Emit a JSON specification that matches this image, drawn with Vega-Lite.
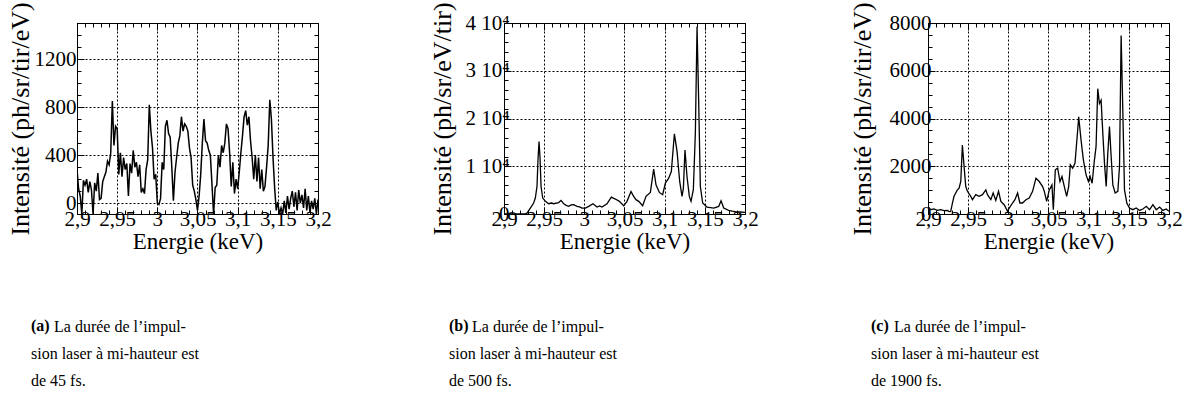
{
  "$schema": "https://vega.github.io/schema/vega-lite/v6.json",
  "background": "white",
  "padding": {"left": 6, "top": 1, "right": 5, "bottom": 5},
  "config": {
    "font": "Liberation Serif, DejaVu Serif, Times New Roman, serif",
    "view": {"stroke": "black", "strokeWidth": 1},
    "axis": {
      "labelFont": "Liberation Serif, DejaVu Serif, Times New Roman, serif", "titleFont": "Liberation Serif, DejaVu Serif, Times New Roman, serif",
      "labelColor": "black", "titleColor": "black", "titleFontWeight": "normal",
      "domainColor": "black", "tickColor": "black", "gridColor": "black",
      "gridDash": [2, 2], "gridWidth": 1, "labelFontSize": 21, "titleFontSize": 23,
      "labelFlush": false, "labelOverlap": false, "labelBound": false
    },
    "title": {"font": "Liberation Serif, DejaVu Serif, Times New Roman, serif", "fontWeight": "normal", "color": "black", "fontSize": 16, "orient": "bottom", "anchor": "start", "frame": "group"}
  },
  "datasets": {
    "a": [
      {"E":2.900,"I":280},{"E":2.902,"I":120},{"E":2.904,"I":60},{"E":2.906,"I":-90},{"E":2.908,"I":190},{"E":2.910,"I":150},{"E":2.912,"I":200},{"E":2.914,"I":90},{"E":2.916,"I":180},{"E":2.918,"I":110},{"E":2.920,"I":-90},{"E":2.922,"I":170},{"E":2.924,"I":100},{"E":2.926,"I":250},{"E":2.928,"I":30},{"E":2.930,"I":40},{"E":2.932,"I":180},{"E":2.934,"I":220},{"E":2.936,"I":260},{"E":2.938,"I":350},{"E":2.940,"I":320},{"E":2.942,"I":420},{"E":2.944,"I":850},{"E":2.946,"I":480},{"E":2.948,"I":640},{"E":2.950,"I":620},
      {"E":2.952,"I":240},{"E":2.954,"I":420},{"E":2.956,"I":220},{"E":2.958,"I":380},{"E":2.960,"I":280},{"E":2.962,"I":330},{"E":2.964,"I":60},{"E":2.966,"I":330},{"E":2.968,"I":250},{"E":2.970,"I":440},{"E":2.972,"I":300},{"E":2.974,"I":340},{"E":2.976,"I":220},{"E":2.978,"I":320},{"E":2.980,"I":90},{"E":2.982,"I":120},{"E":2.984,"I":80},{"E":2.986,"I":280},{"E":2.988,"I":360},{"E":2.990,"I":820},{"E":2.992,"I":600},{"E":2.994,"I":460},{"E":2.996,"I":200},{"E":2.998,"I":240},
      {"E":3.000,"I":0},{"E":3.002,"I":-10},{"E":3.004,"I":40},{"E":3.006,"I":340},{"E":3.008,"I":280},{"E":3.010,"I":640},{"E":3.012,"I":690},{"E":3.014,"I":580},{"E":3.016,"I":550},{"E":3.018,"I":300},{"E":3.020,"I":20},{"E":3.022,"I":260},{"E":3.024,"I":380},{"E":3.026,"I":500},{"E":3.028,"I":560},{"E":3.030,"I":720},{"E":3.032,"I":600},{"E":3.034,"I":660},{"E":3.036,"I":640},{"E":3.038,"I":600},{"E":3.040,"I":460},{"E":3.042,"I":380},{"E":3.044,"I":150},{"E":3.046,"I":100},{"E":3.048,"I":30},
      {"E":3.050,"I":-60},{"E":3.052,"I":60},{"E":3.054,"I":240},{"E":3.056,"I":500},{"E":3.058,"I":700},{"E":3.060,"I":520},{"E":3.062,"I":500},{"E":3.064,"I":440},{"E":3.066,"I":400},{"E":3.068,"I":160},{"E":3.070,"I":-90},{"E":3.072,"I":130},{"E":3.074,"I":150},{"E":3.076,"I":400},{"E":3.078,"I":300},{"E":3.080,"I":480},{"E":3.082,"I":420},{"E":3.084,"I":500},{"E":3.086,"I":660},{"E":3.088,"I":620},{"E":3.090,"I":420},{"E":3.092,"I":140},{"E":3.094,"I":340},{"E":3.096,"I":80},{"E":3.098,"I":200},
      {"E":3.100,"I":120},{"E":3.102,"I":260},{"E":3.104,"I":420},{"E":3.106,"I":560},{"E":3.108,"I":720},{"E":3.110,"I":770},{"E":3.112,"I":650},{"E":3.114,"I":720},{"E":3.116,"I":520},{"E":3.118,"I":380},{"E":3.120,"I":200},{"E":3.122,"I":400},{"E":3.124,"I":180},{"E":3.126,"I":380},{"E":3.128,"I":120},{"E":3.130,"I":280},{"E":3.132,"I":100},{"E":3.134,"I":140},{"E":3.136,"I":300},{"E":3.138,"I":480},{"E":3.140,"I":860},{"E":3.142,"I":700},{"E":3.144,"I":380},{"E":3.146,"I":130},{"E":3.148,"I":-60},
      {"E":3.150,"I":10},{"E":3.152,"I":-90},{"E":3.154,"I":-40},{"E":3.156,"I":-90},{"E":3.158,"I":20},{"E":3.160,"I":-80},{"E":3.162,"I":60},{"E":3.164,"I":-50},{"E":3.166,"I":40},{"E":3.168,"I":100},{"E":3.170,"I":-30},{"E":3.172,"I":90},{"E":3.174,"I":-60},{"E":3.176,"I":110},{"E":3.178,"I":0},{"E":3.180,"I":70},{"E":3.182,"I":-40},{"E":3.184,"I":120},{"E":3.186,"I":-60},{"E":3.188,"I":60},{"E":3.190,"I":-80},{"E":3.192,"I":20},{"E":3.194,"I":-50},{"E":3.196,"I":40},{"E":3.198,"I":-90},{"E":3.200,"I":30}
    ],
    "b": [
      {"E":2.9000,"I":0},{"E":2.9100,"I":0},{"E":2.9200,"I":0},{"E":2.9266,"I":0},{"E":2.9286,"I":200},{"E":2.9328,"I":1250},{"E":2.9369,"I":2300},{"E":2.9390,"I":3340},{"E":2.9411,"I":5800},{"E":2.9423,"I":11300},{"E":2.9436,"I":15200},{"E":2.9448,"I":12000},{"E":2.9461,"I":5800},{"E":2.9482,"I":3340},{"E":2.9515,"I":2650},{"E":2.9556,"I":2150},{"E":2.9590,"I":2300},{"E":2.9618,"I":2150},{"E":2.9681,"I":2400},{"E":2.9710,"I":2850},{"E":2.9743,"I":2150},{"E":2.9775,"I":1800},{"E":2.9805,"I":1600},{"E":2.9835,"I":1900},{"E":2.9867,"I":1950},{"E":2.9909,"I":1600},{"E":2.9940,"I":1500},{"E":2.9971,"I":1250},{"E":3.0013,"I":1250},{"E":3.0054,"I":1600},{"E":3.0108,"I":2150},{"E":3.0158,"I":1460},{"E":3.0190,"I":1700},{"E":3.0220,"I":1460},{"E":3.0282,"I":2150},{"E":3.0336,"I":3550},{"E":3.0386,"I":3130},{"E":3.0436,"I":2650},{"E":3.0490,"I":1740},{"E":3.0531,"I":2650},{"E":3.0581,"I":4730},{"E":3.0614,"I":3690},{"E":3.0643,"I":3000},{"E":3.0677,"I":2650},{"E":3.0726,"I":1740},{"E":3.0768,"I":3690},{"E":3.0822,"I":4520},{"E":3.0863,"I":9400},{"E":3.0892,"I":6120},{"E":3.0934,"I":4520},{"E":3.0975,"I":4040},{"E":3.1009,"I":6470},{"E":3.1050,"I":7500},{"E":3.1083,"I":8900},{"E":3.1121,"I":16800},{"E":3.1154,"I":13100},{"E":3.1187,"I":6820},{"E":3.1216,"I":3690},{"E":3.1233,"I":5430},{"E":3.1253,"I":13400},{"E":3.1278,"I":7860},{"E":3.1307,"I":3690},{"E":3.1328,"I":2650},{"E":3.1357,"I":5080},{"E":3.1382,"I":16900},{"E":3.1403,"I":39200},{"E":3.1423,"I":23900},{"E":3.1444,"I":5800},{"E":3.1473,"I":2300},{"E":3.1527,"I":1460},{"E":3.1570,"I":1350},{"E":3.1610,"I":1250},{"E":3.1673,"I":1600},{"E":3.1702,"I":2780},{"E":3.1735,"I":1250},{"E":3.1797,"I":770},{"E":3.1840,"I":600},{"E":3.1880,"I":490},{"E":3.1940,"I":420},{"E":3.2000,"I":350}
    ],
    "c": [
      {"E":2.9000,"I":320},{"E":2.9033,"I":180},{"E":2.9075,"I":210},{"E":2.9116,"I":150},{"E":2.9158,"I":180},{"E":2.9200,"I":140},{"E":2.9241,"I":150},{"E":2.9262,"I":100},{"E":2.9283,"I":110},{"E":2.9304,"I":460},{"E":2.9324,"I":740},{"E":2.9345,"I":880},{"E":2.9366,"I":1010},{"E":2.9387,"I":1080},{"E":2.9408,"I":1360},{"E":2.9428,"I":2890},{"E":2.9449,"I":1990},{"E":2.9470,"I":1150},{"E":2.9491,"I":950},{"E":2.9532,"I":740},{"E":2.9553,"I":600},{"E":2.9595,"I":810},{"E":2.9636,"I":740},{"E":2.9678,"I":810},{"E":2.9720,"I":1010},{"E":2.9740,"I":810},{"E":2.9782,"I":600},{"E":2.9811,"I":880},{"E":2.9844,"I":570},{"E":2.9878,"I":950},{"E":2.9907,"I":530},{"E":2.9948,"I":390},{"E":2.9990,"I":110},{"E":3.0011,"I":250},{"E":3.0052,"I":460},{"E":3.0082,"I":600},{"E":3.0115,"I":880},{"E":3.0144,"I":460},{"E":3.0177,"I":460},{"E":3.0219,"I":600},{"E":3.0260,"I":670},{"E":3.0302,"I":950},{"E":3.0344,"I":1500},{"E":3.0385,"I":1360},{"E":3.0427,"I":1150},{"E":3.0448,"I":950},{"E":3.0477,"I":530},{"E":3.0510,"I":1010},{"E":3.0543,"I":1220},{"E":3.0560,"I":180},{"E":3.0585,"I":1850},{"E":3.0614,"I":1920},{"E":3.0643,"I":1360},{"E":3.0668,"I":1570},{"E":3.0697,"I":1150},{"E":3.0726,"I":740},{"E":3.0751,"I":1150},{"E":3.0772,"I":2060},{"E":3.0801,"I":1920},{"E":3.0830,"I":2130},{"E":3.0855,"I":3170},{"E":3.0876,"I":4070},{"E":3.0905,"I":3100},{"E":3.0934,"I":2270},{"E":3.0968,"I":1640},{"E":3.0997,"I":1360},{"E":3.1018,"I":1570},{"E":3.1043,"I":1290},{"E":3.1072,"I":2270},{"E":3.1092,"I":2820},{"E":3.1113,"I":5250},{"E":3.1134,"I":4630},{"E":3.1155,"I":4770},{"E":3.1176,"I":3380},{"E":3.1197,"I":2130},{"E":3.1218,"I":1150},{"E":3.1238,"I":2540},{"E":3.1259,"I":3660},{"E":3.1280,"I":2400},{"E":3.1301,"I":1220},{"E":3.1330,"I":880},{"E":3.1363,"I":950},{"E":3.1384,"I":1990},{"E":3.1404,"I":7480},{"E":3.1425,"I":4350},{"E":3.1446,"I":1010},{"E":3.1475,"I":460},{"E":3.1508,"I":250},{"E":3.1550,"I":180},{"E":3.1592,"I":250},{"E":3.1633,"I":150},{"E":3.1675,"I":210},{"E":3.1717,"I":320},{"E":3.1758,"I":180},{"E":3.1800,"I":390},{"E":3.1841,"I":180},{"E":3.1883,"I":290},{"E":3.1924,"I":150},{"E":3.1966,"I":210},{"E":3.2000,"I":110}
    ]
  },
  "spacing": 97,
  "bounds": "full",
  "hconcat": [
    {
      "bounds": "flush",
      "title": {"text": ["sion laser à mi-hauteur est", "de 45 fs."], "dx": -46, "offset": 11, "lineHeight": 27},
      "vconcat": [
        {
          "bounds": "flush",
          "title": {"text": "La durée de l’impul-", "dx": -23, "offset": -16},
          "vconcat": [
            {
              "width": 241, "height": 191,
              "data": {"name": "a"},
              "title": {"text": "(a)", "dx": -46, "offset": 65, "fontWeight": "bold"},
              "layer": [
                {
                  "mark": {"type": "line", "color": "black", "strokeWidth": 1.5, "clip": true},
                  "encoding": {
                    "x": {"field": "E", "type": "quantitative", "scale": {"domain": [2.9, 3.2], "nice": false, "zero": false},
                      "axis": {"orient": "bottom", "title": "Energie (keV)", "values": [2.9,2.91,2.92,2.93,2.94,2.95,2.96,2.97,2.98,2.99,3.0,3.01,3.02,3.03,3.04,3.05,3.06,3.07,3.08,3.09,3.1,3.11,3.12,3.13,3.14,3.15,3.16,3.17,3.18,3.19,3.2],
                        "labelExpr": "abs(datum.value*20-round(datum.value*20))<0.001 ? replace(format(datum.value,'.2~f'),'.',',') : ''",
                        "grid": true, "gridOpacity": {"condition": {"test": "abs(datum.value*20-round(datum.value*20))<0.001", "value": 1}, "value": 0},
                        "tickSize": {"condition": {"test": "abs(datum.value*20-round(datum.value*20))<0.001", "value": -7}, "value": -4},
                        "labelPadding": 1, "titlePadding": -2}},
                    "y": {"field": "I", "type": "quantitative", "scale": {"domain": [-90, 1500], "nice": false, "zero": false},
                      "axis": {"orient": "left", "title": "Intensité (ph/sr/tir/eV)", "titleFontSize": 26, "values": [0,100,200,300,400,500,600,700,800,900,1000,1100,1200,1300,1400,1500],
                        "labelExpr": "datum.value % 400 == 0 ? datum.value : ''",
                        "grid": true, "gridOpacity": {"condition": {"test": "datum.value % 400 == 0", "value": 1}, "value": 0},
                        "tickSize": {"condition": {"test": "datum.value % 400 == 0", "value": -7}, "value": -4},
                        "labelPadding": 8, "titlePadding": 1}}
                  }
                },
                {
                  "mark": {"type": "line", "opacity": 0},
                  "encoding": {
                    "x": {"field": "E", "type": "quantitative", "axis": {"orient": "top", "title": null, "labels": false, "grid": false, "values": [2.9,2.91,2.92,2.93,2.94,2.95,2.96,2.97,2.98,2.99,3.0,3.01,3.02,3.03,3.04,3.05,3.06,3.07,3.08,3.09,3.1,3.11,3.12,3.13,3.14,3.15,3.16,3.17,3.18,3.19,3.2],
                      "tickSize": {"condition": {"test": "abs(datum.value*20-round(datum.value*20))<0.001", "value": -7}, "value": -4}}},
                    "y": {"field": "I", "type": "quantitative", "axis": {"orient": "right", "title": null, "labels": false, "grid": false, "values": [0,100,200,300,400,500,600,700,800,900,1000,1100,1200,1300,1400,1500],
                      "tickSize": {"condition": {"test": "datum.value % 400 == 0", "value": -7}, "value": -4}}}
                  }
                }
              ]
            }
          ]
        }
      ]
    },
    {
      "spacing": 89,
      "bounds": "full",
      "hconcat": [
        {
          "bounds": "flush",
          "title": {"text": ["sion laser à mi-hauteur est", "de 500 fs."], "dx": -55, "offset": 11, "lineHeight": 27},
          "vconcat": [
            {
              "bounds": "flush",
              "title": {"text": "La durée de l’impul-", "dx": -32, "offset": -16},
              "vconcat": [
                {
                  "width": 241, "height": 191,
                  "data": {"name": "b"},
                  "title": {"text": "(b)", "dx": -55, "offset": 65, "fontWeight": "bold"},
                  "layer": [
                    {
                      "mark": {"type": "line", "color": "black", "strokeWidth": 1.3, "clip": true},
                      "encoding": {
                        "x": {"field": "E", "type": "quantitative", "scale": {"domain": [2.9, 3.2], "nice": false, "zero": false},
                          "axis": {"orient": "bottom", "title": "Energie (keV)", "values": [2.9,2.91,2.92,2.93,2.94,2.95,2.96,2.97,2.98,2.99,3.0,3.01,3.02,3.03,3.04,3.05,3.06,3.07,3.08,3.09,3.1,3.11,3.12,3.13,3.14,3.15,3.16,3.17,3.18,3.19,3.2],
                            "labelExpr": "abs(datum.value*20-round(datum.value*20))<0.001 ? replace(format(datum.value,'.2~f'),'.',',') : ''",
                            "grid": true, "gridOpacity": {"condition": {"test": "abs(datum.value*20-round(datum.value*20))<0.001", "value": 1}, "value": 0},
                            "tickSize": {"condition": {"test": "abs(datum.value*20-round(datum.value*20))<0.001", "value": -7}, "value": -4},
                            "labelPadding": 1, "titlePadding": -2}},
                        "y": {"field": "I", "type": "quantitative", "scale": {"domain": [0, 40000], "nice": false, "zero": false},
                          "axis": {"orient": "left", "title": "Intensité (ph/sr/eV/tir)", "titleFontSize": 26, "values": [0,2000,4000,6000,8000,10000,12000,14000,16000,18000,20000,22000,24000,26000,28000,30000,32000,34000,36000,38000,40000],
                            "labelExpr": "datum.value == 0 ? '0' : (datum.value % 10000 == 0 ? (datum.value/10000) + ' 10⁴' : '')",
                            "grid": true, "gridOpacity": {"condition": {"test": "datum.value % 10000 == 0", "value": 1}, "value": 0},
                            "tickSize": {"condition": {"test": "datum.value % 10000 == 0", "value": -7}, "value": -4},
                            "labelPadding": 2, "titlePadding": 9}}
                      }
                    },
                    {
                      "mark": {"type": "line", "opacity": 0},
                      "encoding": {
                        "x": {"field": "E", "type": "quantitative", "axis": {"orient": "top", "title": null, "labels": false, "grid": false, "values": [2.9,2.91,2.92,2.93,2.94,2.95,2.96,2.97,2.98,2.99,3.0,3.01,3.02,3.03,3.04,3.05,3.06,3.07,3.08,3.09,3.1,3.11,3.12,3.13,3.14,3.15,3.16,3.17,3.18,3.19,3.2],
                          "tickSize": {"condition": {"test": "abs(datum.value*20-round(datum.value*20))<0.001", "value": -7}, "value": -4}}},
                        "y": {"field": "I", "type": "quantitative", "axis": {"orient": "right", "title": null, "labels": false, "grid": false, "values": [0,2000,4000,6000,8000,10000,12000,14000,16000,18000,20000,22000,24000,26000,28000,30000,32000,34000,36000,38000,40000],
                          "tickSize": {"condition": {"test": "datum.value % 10000 == 0", "value": -7}, "value": -4}}}
                      }
                    }
                  ]
                }
              ]
            }
          ]
        },
        {
          "bounds": "flush",
          "title": {"text": ["sion laser à mi-hauteur est", "de 1900 fs."], "dx": -57, "offset": 11, "lineHeight": 27},
          "vconcat": [
            {
              "bounds": "flush",
              "title": {"text": "La durée de l’impul-", "dx": -34, "offset": -16},
              "vconcat": [
                {
                  "width": 241, "height": 191,
                  "data": {"name": "c"},
                  "title": {"text": "(c)", "dx": -57, "offset": 65, "fontWeight": "bold"},
                  "layer": [
                    {
                      "mark": {"type": "line", "color": "black", "strokeWidth": 1.3, "clip": true},
                      "encoding": {
                        "x": {"field": "E", "type": "quantitative", "scale": {"domain": [2.9, 3.2], "nice": false, "zero": false},
                          "axis": {"orient": "bottom", "title": "Energie (keV)", "values": [2.9,2.91,2.92,2.93,2.94,2.95,2.96,2.97,2.98,2.99,3.0,3.01,3.02,3.03,3.04,3.05,3.06,3.07,3.08,3.09,3.1,3.11,3.12,3.13,3.14,3.15,3.16,3.17,3.18,3.19,3.2],
                            "labelExpr": "abs(datum.value*20-round(datum.value*20))<0.001 ? replace(format(datum.value,'.2~f'),'.',',') : ''",
                            "grid": true, "gridOpacity": {"condition": {"test": "abs(datum.value*20-round(datum.value*20))<0.001", "value": 1}, "value": 0},
                            "tickSize": {"condition": {"test": "abs(datum.value*20-round(datum.value*20))<0.001", "value": -7}, "value": -4},
                            "labelPadding": 1, "titlePadding": -2}},
                        "y": {"field": "I", "type": "quantitative", "scale": {"domain": [0, 8000], "nice": false, "zero": false},
                          "axis": {"orient": "left", "title": "Intensité (ph/sr/tir/eV)", "titleFontSize": 26, "values": [0,500,1000,1500,2000,2500,3000,3500,4000,4500,5000,5500,6000,6500,7000,7500,8000],
                            "labelExpr": "datum.value % 2000 == 0 ? datum.value : ''",
                            "grid": true, "gridOpacity": {"condition": {"test": "datum.value % 2000 == 0", "value": 1}, "value": 0},
                            "tickSize": {"condition": {"test": "datum.value % 2000 == 0", "value": -7}, "value": -4},
                            "labelPadding": 4, "titlePadding": 14}}
                      }
                    },
                    {
                      "mark": {"type": "line", "opacity": 0},
                      "encoding": {
                        "x": {"field": "E", "type": "quantitative", "axis": {"orient": "top", "title": null, "labels": false, "grid": false, "values": [2.9,2.91,2.92,2.93,2.94,2.95,2.96,2.97,2.98,2.99,3.0,3.01,3.02,3.03,3.04,3.05,3.06,3.07,3.08,3.09,3.1,3.11,3.12,3.13,3.14,3.15,3.16,3.17,3.18,3.19,3.2],
                          "tickSize": {"condition": {"test": "abs(datum.value*20-round(datum.value*20))<0.001", "value": -7}, "value": -4}}},
                        "y": {"field": "I", "type": "quantitative", "axis": {"orient": "right", "title": null, "labels": false, "grid": false, "values": [0,500,1000,1500,2000,2500,3000,3500,4000,4500,5000,5500,6000,6500,7000,7500,8000],
                          "tickSize": {"condition": {"test": "datum.value % 2000 == 0", "value": -7}, "value": -4}}}
                      }
                    }
                  ]
                }
              ]
            }
          ]
        }
      ]
    }
  ]
}
